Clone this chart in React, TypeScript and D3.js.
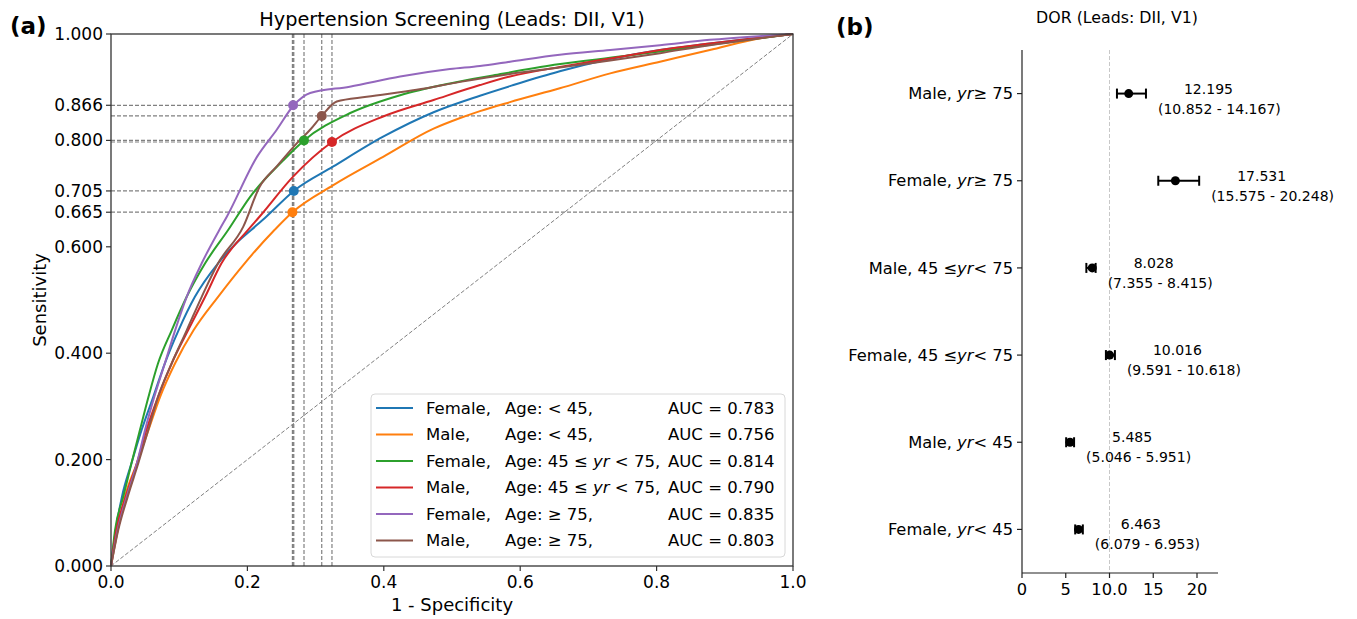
import React from "react";
import * as d3 from "d3";

// ---- ROC data ----
const seriesNames = ["Female,", "Male,", "Female,", "Male,", "Female,", "Male,"];
const seriesAuc = ["0.783", "0.756", "0.814", "0.790", "0.835", "0.803"];
const seriesColors = ["#1f77b4", "#ff7f0e", "#2ca02c", "#d62728", "#9467bd", "#8c564b"];

const fprF45 = [0, 0.007, 0.016, 0.03, 0.045, 0.062, 0.079, 0.099, 0.123, 0.157, 0.184, 0.206, 0.228, 0.268, 0.326, 0.399, 0.473, 0.541, 0.585, 0.658, 0.732, 0.805, 0.878, 0.95, 1];
const tprF45 = [0, 0.068, 0.13, 0.193, 0.256, 0.318, 0.381, 0.443, 0.506, 0.569, 0.607, 0.632, 0.657, 0.705, 0.751, 0.807, 0.853, 0.884, 0.902, 0.93, 0.953, 0.97, 0.982, 0.993, 1];

const fprM45 = [0, 0.01, 0.0205, 0.038, 0.055, 0.072, 0.094, 0.121, 0.157, 0.196, 0.24, 0.266, 0.326, 0.399, 0.473, 0.512, 0.541, 0.585, 0.658, 0.732, 0.805, 0.878, 0.952, 1];
const tprM45 = [0, 0.068, 0.13, 0.193, 0.256, 0.318, 0.381, 0.443, 0.506, 0.569, 0.632, 0.665, 0.716, 0.769, 0.822, 0.842, 0.855, 0.872, 0.898, 0.926, 0.948, 0.97, 0.992, 1];

const fprF4575 = [0, 0.006, 0.018, 0.03, 0.0425, 0.055, 0.069, 0.089, 0.111, 0.138, 0.172, 0.204, 0.253, 0.283, 0.35, 0.424, 0.497, 0.56, 0.65, 0.75, 0.85, 0.95, 1];
const tprF4575 = [0, 0.068, 0.13, 0.193, 0.256, 0.318, 0.381, 0.443, 0.506, 0.569, 0.632, 0.694, 0.763, 0.8, 0.851, 0.885, 0.907, 0.922, 0.942, 0.958, 0.975, 0.992, 1];

const fprM4575 = [0, 0.008, 0.0215, 0.038, 0.052, 0.069, 0.089, 0.113, 0.138, 0.162, 0.201, 0.218, 0.267, 0.324, 0.399, 0.473, 0.541, 0.585, 0.658, 0.732, 0.805, 0.878, 0.95, 1];
const tprM4575 = [0, 0.068, 0.13, 0.193, 0.256, 0.318, 0.381, 0.443, 0.506, 0.569, 0.632, 0.657, 0.732, 0.797, 0.845, 0.876, 0.904, 0.92, 0.938, 0.954, 0.97, 0.982, 0.993, 1];

const fprF75 = [0, 0.0098, 0.023, 0.038, 0.05, 0.0635, 0.079, 0.094, 0.111, 0.133, 0.159, 0.17, 0.214, 0.243, 0.268, 0.292, 0.35, 0.424, 0.497, 0.541, 0.585, 0.658, 0.732, 0.805, 0.878, 0.95, 1];
const tprF75 = [0, 0.068, 0.13, 0.193, 0.256, 0.318, 0.381, 0.443, 0.506, 0.569, 0.632, 0.657, 0.769, 0.82, 0.866, 0.889, 0.901, 0.92, 0.934, 0.94, 0.948, 0.961, 0.97, 0.979, 0.989, 0.996, 1];

const fprM75 = [0, 0.0107, 0.0244, 0.04, 0.0547, 0.069, 0.089, 0.111, 0.133, 0.157, 0.194, 0.218, 0.243, 0.272, 0.292, 0.309, 0.331, 0.375, 0.448, 0.512, 0.585, 0.658, 0.732, 0.805, 0.878, 0.952, 1];
const tprM75 = [0, 0.068, 0.13, 0.193, 0.256, 0.318, 0.381, 0.443, 0.506, 0.569, 0.638, 0.713, 0.751, 0.794, 0.82, 0.846, 0.873, 0.882, 0.895, 0.91, 0.925, 0.937, 0.95, 0.964, 0.979, 0.992, 1];

const rocFpr = [fprF45, fprM45, fprF4575, fprM4575, fprF75, fprM75];
const rocTpr = [tprF45, tprM45, tprF4575, tprM4575, tprF75, tprM75];

// operating points
const opFpr = [0.268, 0.266, 0.283, 0.324, 0.267, 0.309];
const opTpr = [0.705, 0.665, 0.8, 0.797, 0.866, 0.846];

const yTickValues = [0, 0.2, 0.4, 0.6, 0.665, 0.705, 0.8, 0.866, 1];
const xTickValues = [0, 0.2, 0.4, 0.6, 0.8, 1];

// ---- DOR data ----
const dorLabels = ["Male, yr≥75", "Female, yr≥75", "Male, 45≤yr<75", "Female, 45≤yr<75", "Male, yr<45", "Female, yr<45"];
const dorValue = [12.195, 17.531, 8.028, 10.016, 5.485, 6.463];
const dorLow = [10.852, 15.575, 7.355, 9.591, 5.046, 6.079];
const dorHigh = [14.167, 20.248, 8.415, 10.618, 5.951, 6.953];
const dorTickValues = [0, 5, 10, 15, 20];
const dorTickLabels = ["0", "5", "10.0", "15", "20"];

const FONT = "DejaVu Sans, sans-serif";

const AgeText = ({ i }: { i: number }) => {
  if (i < 2) return <tspan>{"Age:  < 45,"}</tspan>;
  if (i < 4)
    return (
      <>
        <tspan>{"Age: 45 ≤ "}</tspan>
        <tspan fontStyle="italic">yr</tspan>
        <tspan>{" < 75,"}</tspan>
      </>
    );
  return <tspan>{"Age:  ≥ 75,"}</tspan>;
};

const DorLabel = ({ label }: { label: string }) => {
  const [sex, rest] = label.split(", ");
  if (rest.startsWith("yr≥")) {
    return (<><tspan>{sex + ", "}</tspan><tspan fontStyle="italic">yr</tspan><tspan>{"≥  75"}</tspan></>);
  }
  if (rest.startsWith("yr<")) {
    return (<><tspan>{sex + ", "}</tspan><tspan fontStyle="italic">yr</tspan><tspan>{"<  45"}</tspan></>);
  }
  return (<><tspan>{sex + ", 45  ≤"}</tspan><tspan fontStyle="italic">yr</tspan><tspan>{"<  75"}</tspan></>);
};

const App = () => {
  // left panel scales
  const x = d3.scaleLinear().domain([0, 1]).range([111, 793]);
  const y = d3.scaleLinear().domain([0, 1]).range([566, 34]);
  const line = d3
    .line<[number, number]>()
    .x((d) => x(d[0]))
    .y((d) => y(d[1]))
    .curve(d3.curveMonotoneX);

  // right panel scales
  const xd = d3.scaleLinear().domain([0, 22.4]).range([1022, 1218]);
  const yd = d3.scalePoint<string>().domain(dorLabels).range([50, 573]).padding(0.5);

  const gray = "#808080";

  return (
    <div style={{ position: "absolute", left: 0, top: 0 }}>
      <svg width={1357} height={619} style={{ fontFamily: FONT, display: "block", whiteSpace: "pre" }}>
        <rect width={1357} height={619} fill="#fff" />

        {/* ---------- panel (a) ---------- */}
        <text x={10} y={34} fontSize={23} fontWeight="bold">(a)</text>
        <text x={452} y={26} fontSize={19.3} textAnchor="middle">Hypertension Screening (Leads: DII, V1)</text>

        {/* reference dashed lines */}
        <line x1={x(0)} y1={y(0)} x2={x(1)} y2={y(1)} stroke={gray} strokeWidth={1} strokeDasharray="4,2" />
        {opTpr.map((t, i) => (
          <line key={"h" + i} x1={x(0)} x2={x(1)} y1={y(t)} y2={y(t)} stroke={gray} strokeWidth={1.2} strokeDasharray="4,2" />
        ))}
        {opFpr.map((f, i) => (
          <line key={"v" + i} x1={x(f)} x2={x(f)} y1={y(0)} y2={y(1)} stroke={gray} strokeWidth={1.2} strokeDasharray="4,2" />
        ))}

        {/* ROC curves */}
        {rocFpr.map((fs, i) => (
          <path
            key={"roc" + i}
            d={line(fs.map((f, j) => [f, rocTpr[i][j]] as [number, number])) || ""}
            fill="none"
            stroke={seriesColors[i]}
            strokeWidth={2}
            strokeLinejoin="round"
          />
        ))}
        {opFpr.map((f, i) => (
          <circle key={"op" + i} cx={x(f)} cy={y(opTpr[i])} r={5} fill={seriesColors[i]} />
        ))}

        {/* frame */}
        <rect x={x(0)} y={y(1)} width={x(1) - x(0)} height={y(0) - y(1)} fill="none" stroke="#333" strokeWidth={1.3} />

        {/* y ticks */}
        {yTickValues.map((v) => (
          <g key={"yt" + v}>
            <line x1={x(0) - 5} x2={x(0)} y1={y(v)} y2={y(v)} stroke="#333" strokeWidth={1.2} />
            <text x={x(0) - 8} y={y(v)} dy="0.35em" fontSize={17} textAnchor="end">{d3.format(".3f")(v)}</text>
          </g>
        ))}
        {/* x ticks */}
        {xTickValues.map((v) => (
          <g key={"xt" + v}>
            <line x1={x(v)} x2={x(v)} y1={y(0)} y2={y(0) + 5} stroke="#333" strokeWidth={1.2} />
            <text x={x(v)} y={y(0) + 22} fontSize={17} textAnchor="middle">{d3.format(".1f")(v)}</text>
          </g>
        ))}
        <text x={452} y={611} fontSize={18} textAnchor="middle">1 - Specificity</text>
        <text transform="translate(46,300) rotate(-90)" fontSize={18} textAnchor="middle">Sensitivity</text>

        {/* legend */}
        <rect x={371} y={394} width={414} height={163} rx={4} fill="#fff" fillOpacity={0.85} stroke="#d8d8d8" strokeWidth={1} />
        {seriesNames.map((n, i) => {
          const ly = 408 + i * 26.5;
          return (
            <g key={"lg" + i} fontSize={16.5}>
              <line x1={376} x2={413} y1={ly} y2={ly} stroke={seriesColors[i]} strokeWidth={2} />
              <text x={426} y={ly} dy="0.35em">{n}</text>
              <text x={505} y={ly} dy="0.35em"><AgeText i={i} /></text>
              <text x={668} y={ly} dy="0.35em">{"AUC = " + seriesAuc[i]}</text>
            </g>
          );
        })}

        {/* ---------- panel (b) ---------- */}
        <text x={836} y={35} fontSize={23} fontWeight="bold">(b)</text>
        <text x={1117} y={23} fontSize={15.8} textAnchor="middle">DOR (Leads: DII, V1)</text>

        <line x1={xd(10)} x2={xd(10)} y1={50} y2={573} stroke="#c8c8c8" strokeWidth={1} strokeDasharray="4,2" />

        {dorLabels.map((lab, i) => {
          const cy = yd(lab) as number;
          const cap = 5;
          return (
            <g key={"dor" + i}>
              <line x1={xd(dorLow[i])} x2={xd(dorHigh[i])} y1={cy} y2={cy} stroke="#000" strokeWidth={2} />
              <line x1={xd(dorLow[i])} x2={xd(dorLow[i])} y1={cy - cap} y2={cy + cap} stroke="#000" strokeWidth={2} />
              <line x1={xd(dorHigh[i])} x2={xd(dorHigh[i])} y1={cy - cap} y2={cy + cap} stroke="#000" strokeWidth={2} />
              <circle cx={xd(dorValue[i])} cy={cy} r={4.5} fill="#000" />
              <text x={xd(dorHigh[i]) + 38} y={cy} fontSize={14}>{dorValue[i].toFixed(3)}</text>
              <text x={xd(dorHigh[i]) + 12} y={cy + 20} fontSize={14}>
                {"(" + dorLow[i].toFixed(3) + " - " + dorHigh[i].toFixed(3) + ")"}
              </text>
              <line x1={1017} x2={1022} y1={cy} y2={cy} stroke="#222" strokeWidth={1.2} />
              <text x={1013} y={cy} dy="0.35em" fontSize={16.3} textAnchor="end"><DorLabel label={lab} /></text>
            </g>
          );
        })}

        <line x1={1022} x2={1022} y1={50} y2={573} stroke="#222" strokeWidth={1.2} />
        <line x1={1022} x2={1218} y1={573} y2={573} stroke="#222" strokeWidth={1.2} />
        {dorTickValues.map((v, i) => (
          <g key={"dt" + v}>
            <line x1={xd(v)} x2={xd(v)} y1={573} y2={578} stroke="#222" strokeWidth={1.2} />
            <text x={xd(v)} y={595} fontSize={16.3} textAnchor="middle">{dorTickLabels[i]}</text>
          </g>
        ))}
      </svg>
    </div>
  );
};

export default App;
